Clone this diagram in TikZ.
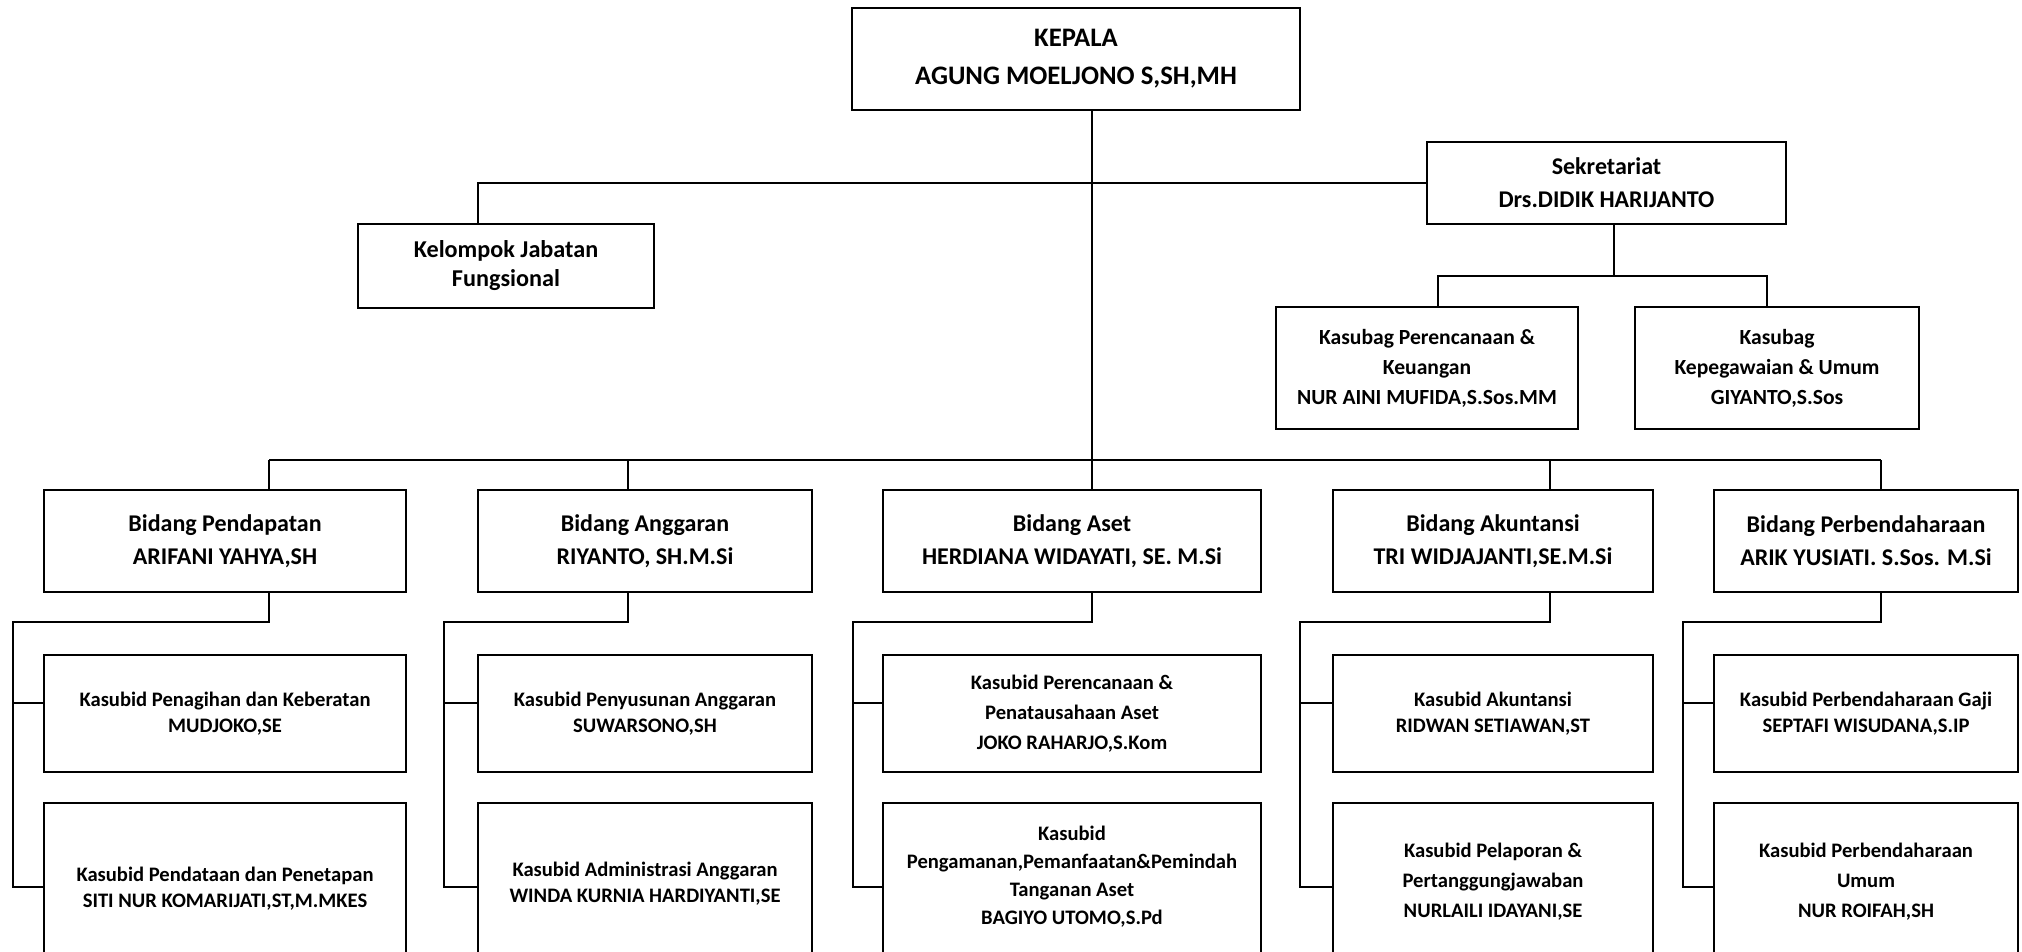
\documentclass[tikz,border=0pt]{standalone}
\usepackage{fontspec}
\setmainfont{Carlito}
\begin{document}
\begin{tikzpicture}[x=1pt,y=-1pt,
  box/.style={draw, line width=2.5pt, inner sep=0pt, align=center},
  conn/.style={line width=2pt},
  fK/.style={font=\bfseries\fontsize{26.7}{38}\selectfont},
  fB/.style={font=\bfseries\fontsize{24}{33}\selectfont},
  fL/.style={font=\bfseries\fontsize{24.2}{29}\selectfont},
  fS/.style={font=\bfseries\fontsize{21.6}{30}\selectfont},
  fC/.style={font=\bfseries\fontsize{20.6}{26}\selectfont},
  fCiii/.style={font=\bfseries\fontsize{20.6}{30}\selectfont},
  fCiv/.style={font=\bfseries\fontsize{20.6}{28}\selectfont},
  bid/.style={box, fB, minimum height=102pt},
  chA/.style={box, fC, minimum height=117pt}
]
\useasboundingbox (0,0) rectangle (2022,951);
\clip (0,0) rectangle (2022,951);

% top level
\node[box, fK, minimum width=448pt, minimum height=102pt] (kepala) at (1076,59) {KEPALA\\AGUNG MOELJONO S,SH,MH};
\node[box, fB, minimum width=359pt, minimum height=82pt] (sek) at (1606.5,183) {Sekretariat\\Drs.DIDIK HARIJANTO};
\node[box, fL, minimum width=296pt, minimum height=84pt] (kel) at (506,266) {Kelompok Jabatan\\Fungsional};
\node[box, fS, minimum width=302pt, minimum height=122pt] (ksb1) at (1427,368) {Kasubag Perencanaan \&\\Keuangan\\NUR AINI MUFIDA,S.Sos.MM};
\node[box, fS, minimum width=284pt, minimum height=122pt] (ksb2) at (1777,368) {Kasubag\\Kepegawaian \& Umum\\GIYANTO,S.Sos};

% bidang
\node[bid, minimum width=362pt] (b1) at (225,541) {Bidang Pendapatan\\ARIFANI YAHYA,SH};
\node[bid, minimum width=334pt] (b2) at (645,541) {Bidang Anggaran\\RIYANTO, SH.M.Si};
\node[bid, minimum width=378pt] (b3) at (1072,541) {Bidang Aset\\HERDIANA WIDAYATI, SE. M.Si};
\node[bid, minimum width=320pt] (b4) at (1493,541) {Bidang Akuntansi\\TRI WIDJAJANTI,SE.M.Si};
\node[bid, minimum width=304pt] (b5) at (1866,541) {Bidang Perbendaharaan\\ARIK YUSIATI. S.Sos. M.Si};

% first children
\node[chA, minimum width=362pt] (c11) at (225,713.5) {Kasubid Penagihan dan Keberatan\\MUDJOKO,SE};
\node[chA, minimum width=334pt] (c21) at (645,713.5) {Kasubid Penyusunan Anggaran\\SUWARSONO,SH};
\node[chA, fCiii, minimum width=378pt] (c31) at (1072,713.5) {Kasubid Perencanaan \&\\Penatausahaan Aset\\JOKO RAHARJO,S.Kom};
\node[chA, minimum width=320pt] (c41) at (1493,713.5) {Kasubid Akuntansi\\RIDWAN SETIAWAN,ST};
\node[chA, minimum width=304pt] (c51) at (1866,713.5) {Kasubid Perbendaharaan Gaji\\SEPTAFI WISUDANA,S.IP};

% second children (cut by the lower edge)
\node[box, fC, minimum width=362pt, minimum height=172pt] (c12) at (225,889) {Kasubid Pendataan dan Penetapan\\SITI NUR KOMARIJATI,ST,M.MKES};
\node[box, fC, minimum width=334pt, minimum height=162pt] (c22) at (645,884) {Kasubid Administrasi Anggaran\\WINDA KURNIA HARDIYANTI,SE};
\node[box, minimum width=378pt, minimum height=174pt] (c32) at (1072,890) {};
\node[fCiv, align=center, inner sep=0pt] (c32t) at (1072,877) {Kasubid\\Pengamanan,Pemanfaatan\&Pemindah\\Tanganan Aset\\BAGIYO UTOMO,S.Pd};
\node[box, fCiii, minimum width=320pt, minimum height=158pt] (c42) at (1493,882) {Kasubid Pelaporan \&\\Pertanggungjawaban\\NURLAILI IDAYANI,SE};
\node[box, fCiii, minimum width=304pt, minimum height=158pt] (c52) at (1866,882) {Kasubid Perbendaharaan\\Umum\\NUR ROIFAH,SH};

% connector coordinates
\coordinate (bus) at (1092,460);
\coordinate (kelx) at (478,184);
\coordinate (sekx) at (1614,276);
\coordinate (ksx1) at (1438,276);
\coordinate (ksx2) at (1767,276);

\draw[conn] (kepala.south -| bus) -- (bus);
\draw[conn] (sek.west) -- (sek.west -| kelx) -- (kel.north -| kelx);
\draw[conn] (sek.south -| sekx) -- (sekx);
\draw[conn] (ksb1.north -| ksx1) -- (ksx1) -- (ksx2) -- (ksb2.north -| ksx2);

% bus to bidang
\coordinate (v1) at (269,460);
\coordinate (v2) at (628,460);
\coordinate (v3) at (1092,460);
\coordinate (v4) at (1550,460);
\coordinate (v5) at (1881,460);
\draw[conn] (v1) -- (v5);
\foreach \i in {1,...,5} {
  \draw[conn] (v\i) -- (b\i.north -| v\i);
}

% bidang to children
\coordinate (s1) at (13,622);
\coordinate (s2) at (444,622);
\coordinate (s3) at (853,622);
\coordinate (s4) at (1300,622);
\coordinate (s5) at (1683,622);
\foreach \i in {1,...,5} {
  \draw[conn] (b\i.south -| v\i) -- (s\i -| v\i) -- (s\i) -- ++(0,265) -- (c\i2.west |- 0,887);
  \draw[conn] (s\i |- 0,703) -- (c\i1.west |- 0,703);
}
\end{tikzpicture}
\end{document}
